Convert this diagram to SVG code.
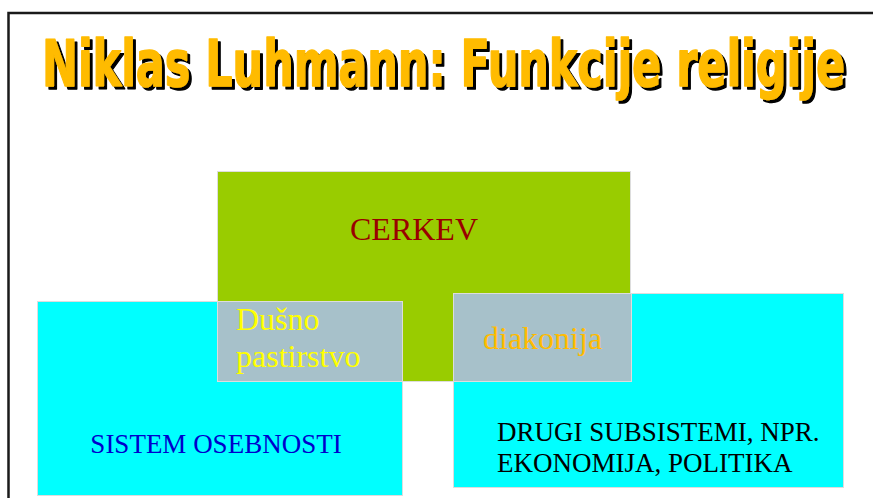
<svg xmlns="http://www.w3.org/2000/svg" width="873" height="498" viewBox="0 0 873 498">
<style>
.box{stroke:#dddddd;stroke-width:1}
.serif{font-family:"Liberation Serif","Times New Roman",serif}
.title{font-family:"DejaVu Sans","Liberation Sans",sans-serif;font-weight:bold;font-size:64px;stroke-width:1.5;stroke-linejoin:round}
</style>
<defs>
<filter id="shadow" x="-5%" y="-20%" width="110%" height="150%">
<feOffset in="SourceAlpha" dx="3" dy="3" result="off"/>
<feFlood flood-color="#000000" result="blk"/>
<feComposite in="blk" in2="off" operator="in" result="sh"/>
<feMerge><feMergeNode in="sh"/><feMergeNode in="SourceGraphic"/></feMerge>
</filter>
</defs>
<rect x="0" y="0" width="873" height="498" fill="#ffffff"/>
<path d="M8.5,498 V13 H873" fill="none" stroke="#1a1a1a" stroke-width="2.5"/>
<g id="title">
<text class="title" x="42" y="86" fill="#FFBB00" stroke="#FFBB00" filter="url(#shadow)" textLength="803" lengthAdjust="spacingAndGlyphs">Niklas Luhmann: Funkcije religije</text>
</g>
<g id="cerkev">
<rect class="box" x="217.5" y="171.5" width="413" height="210" fill="#99CC00"/>
<text class="serif" x="414" y="240" font-size="32" fill="#990000" text-anchor="middle">CERKEV</text>
</g>
<g id="sistem-osebnosti">
<rect class="box" x="37.5" y="301.5" width="365" height="194" fill="#00FFFF"/>
<text class="serif" x="216" y="453" font-size="27" fill="#0000CC" text-anchor="middle">SISTEM OSEBNOSTI</text>
</g>
<g id="drugi-subsistemi">
<rect class="box" x="453.5" y="293.5" width="390" height="194" fill="#00FFFF"/>
<text class="serif" font-size="27" fill="#000000"><tspan x="497" y="441">DRUGI SUBSISTEMI, NPR.</tspan><tspan x="497" y="472">EKONOMIJA, POLITIKA</tspan></text>
</g>
<g id="dusno-pastirstvo">
<rect class="box" x="217.5" y="301.5" width="185" height="80" fill="#A7C1CA"/>
<text class="serif" font-size="32" fill="#FFFF00"><tspan x="236" y="330">Dušno</tspan><tspan x="236" y="367">pastirstvo</tspan></text>
</g>
<g id="diakonija">
<rect class="box" x="453.5" y="293.5" width="178" height="88" fill="#A7C1CA"/>
<text class="serif" x="483" y="349" font-size="32" fill="#FFBB00">diakonija</text>
</g>
<g id="connectors"></g>
</svg>
